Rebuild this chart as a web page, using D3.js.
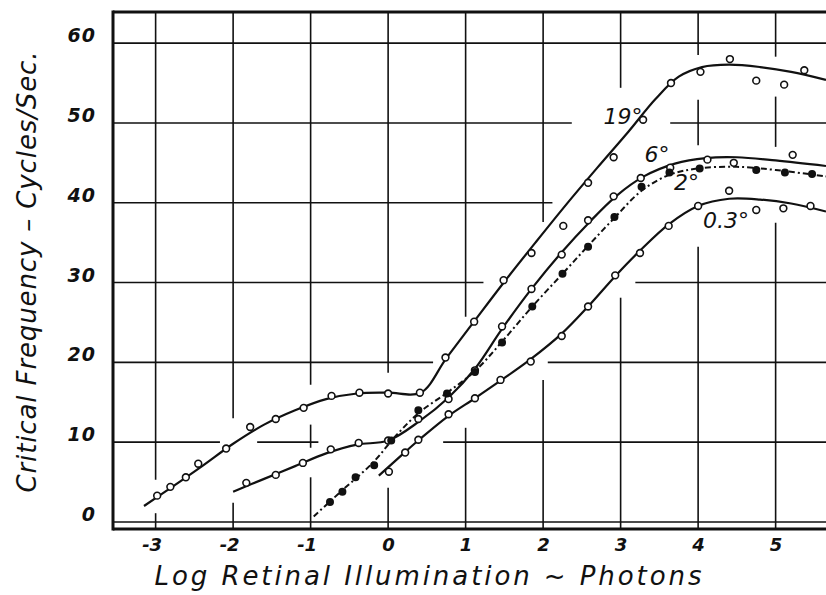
<!DOCTYPE html>
<html><head><meta charset="utf-8">
<script src="https://cdn.jsdelivr.net/npm/d3@7"></script>
<style>
html,body{margin:0;padding:0;background:#fff;}
svg{display:block;}
</style></head>
<body>
<svg id="chart" width="826" height="595"></svg>
<script>
// ---------- data ----------
const xTicks = [-3, -2, -1, 0, 1, 2, 3, 4, 5];
const yTicks = [0, 10, 20, 30, 40, 50, 60];

// observed points [log illumination, critical frequency]
const obs19 = [[-2.98,3.3],[-2.81,4.4],[-2.61,5.6],[-2.45,7.3],[-2.09,9.2],[-1.78,11.9],[-1.45,12.9],[-1.09,14.3],[-0.73,15.8],[-0.37,16.2],[0.0,16.1],[0.41,16.2],[0.74,20.6],[1.11,25.1],[1.49,30.3],[1.85,33.7],[2.26,37.1],[2.58,42.5],[2.91,45.7],[3.29,50.4],[3.65,55.0],[4.03,56.4],[4.41,58.0],[4.75,55.3],[5.11,54.8],[5.37,56.6]];
const obs6 = [[-1.83,4.9],[-1.45,5.9],[-1.10,7.4],[-0.74,9.1],[-0.38,9.9],[0.0,10.2],[0.39,12.9],[0.78,15.4],[1.12,19.0],[1.47,24.5],[1.85,29.2],[2.24,33.5],[2.58,37.8],[2.91,40.8],[3.26,43.1],[3.64,44.4],[4.12,45.4],[4.46,45.0],[5.22,46.0]];
const obs2 = [[-0.75,2.5],[-0.59,3.8],[-0.42,5.6],[-0.18,7.1],[0.04,10.2],[0.39,14.0],[0.76,16.1],[1.12,18.8],[1.47,22.5],[1.86,27.0],[2.25,31.1],[2.58,34.5],[2.92,38.2],[3.27,42.0],[3.63,43.8],[4.02,44.3],[4.75,44.1],[5.12,43.8],[5.47,43.6]];
const obs03 = [[0.01,6.3],[0.22,8.7],[0.39,10.3],[0.78,13.5],[1.12,15.5],[1.45,17.8],[1.84,20.1],[2.24,23.3],[2.58,27.0],[2.93,30.9],[3.25,33.7],[3.62,37.1],[4.0,39.6],[4.40,41.5],[4.75,39.1],[5.10,39.3],[5.45,39.6]];

// hand-fitted smooth curves
const fit19 = [[-3.15,2.0],[-2.8,4.3],[-2.4,7.0],[-2.0,9.8],[-1.6,12.2],[-1.2,14.0],[-0.8,15.4],[-0.4,16.1],[0.0,16.2],[0.42,16.2],[0.75,20.5],[1.1,25.0],[1.5,30.1],[1.9,35.0],[2.3,39.8],[2.7,44.4],[3.1,48.9],[3.45,53.0],[3.75,55.8],[4.05,57.0],[4.4,57.3],[4.8,57.0],[5.2,56.4],[5.65,55.4]];
const fit6 = [[-2.0,3.8],[-1.6,5.4],[-1.2,7.0],[-0.8,8.6],[-0.4,9.7],[0.0,10.2],[0.4,12.6],[0.78,15.6],[1.12,19.2],[1.47,24.2],[1.85,29.2],[2.24,33.8],[2.6,37.6],[2.95,40.9],[3.3,43.3],[3.7,44.9],[4.1,45.6],[4.5,45.7],[5.0,45.3],[5.65,44.6]];
const fit2 = [[-0.96,0.7],[-0.6,3.9],[-0.2,7.4],[0.1,10.8],[0.4,13.7],[0.76,16.2],[1.12,18.9],[1.47,22.6],[1.86,27.0],[2.25,31.1],[2.58,34.6],[2.92,38.1],[3.27,41.5],[3.63,43.5],[4.0,44.3],[4.5,44.5],[5.0,44.1],[5.65,43.3]];
const fit03 = [[-0.12,5.8],[0.2,8.6],[0.4,10.3],[0.78,13.3],[1.12,15.5],[1.45,17.7],[1.84,20.4],[2.24,23.6],[2.58,27.0],[2.93,30.8],[3.25,34.0],[3.62,37.3],[4.0,39.6],[4.4,40.5],[4.8,40.4],[5.2,39.9],[5.65,38.9]];

const seriesNames = ["19°", "6°", "2°", "0.3°"];
const labelAt = [[3.03,50.75],[3.47,46.0],[3.85,42.5],[4.36,37.8]];

// interruptions of the hand-drawn grid (value ranges)
const hGridBreaks = {50:[[2.37,3.64]], 40:[[2.12,5.7]], 30:[[1.23,3.19]], 20:[[0.58,2.06]], 10:[[-2.17,-1.69],[-0.9,0.71]]};
const vGridBreaks = {"-3":[[1.1,5.3]], "-2":[[2.4,13.0]], "-1":[[5.6,9.3],[12.2,17.2]], "0":[[4.3,18.7]], "1":[[11.8,25.7]], "2":[[17.8,37.6]], "3":[[28.1,54.4]], "4":[[34.5,47.2],[52.9,58.5]], "5":[[37.5,47.0],[53.3,58.3]]};

const xTitle = "Log Retinal Illumination ~ Photons";
const yTitle = "Critical Frequency – Cycles/Sec.";

// ---------- drawing ----------
const svg = d3.select("#chart");
const ink = "#111";
const x = d3.scaleLinear().domain([-3.55, 5.65]).range([113, 826]);
const y = d3.scaleLinear().domain([-0.88, 63.9]).range([529, 12]);

function segments(full, breaks) {
  let segs = [[full[0], full[1]]];
  (breaks || []).forEach(([a, b]) => {
    const lo = Math.min(a, b), hi = Math.max(a, b);
    const out = [];
    segs.forEach(([s, e]) => {
      if (hi <= s || lo >= e) { out.push([s, e]); return; }
      if (lo > s) out.push([s, lo]);
      if (hi < e) out.push([hi, e]);
    });
    segs = out;
  });
  return segs;
}

const grid = svg.append("g").attr("stroke", ink).attr("stroke-width", 1.6).attr("fill", "none");
yTicks.forEach(t => {
  segments(x.domain(), hGridBreaks[t]).forEach(([a, b]) => {
    grid.append("line").attr("x1", x(a)).attr("x2", x(b)).attr("y1", y(t)).attr("y2", y(t));
  });
});
xTicks.forEach(t => {
  segments(y.domain(), vGridBreaks[String(t)]).forEach(([a, b]) => {
    grid.append("line").attr("x1", x(t)).attr("x2", x(t)).attr("y1", y(a)).attr("y2", y(b));
  });
});

// frame
const frame = svg.append("g").attr("stroke", ink).attr("stroke-width", 3).attr("fill", "none");
frame.append("line").attr("x1", x.range()[0]).attr("x2", x.range()[0]).attr("y1", y.range()[1] - 1.5).attr("y2", y.range()[0] + 1.5);
frame.append("line").attr("x1", x.range()[0]).attr("x2", x.range()[1]).attr("y1", y.range()[1]).attr("y2", y.range()[1]);
frame.append("line").attr("x1", x.range()[0]).attr("x2", x.range()[1]).attr("y1", y.range()[0]).attr("y2", y.range()[0]);

// axes (labels only)
const tickFont = "'DejaVu Sans', sans-serif";
const yAxis = svg.append("g").attr("transform", `translate(${x.range()[0]},0)`)
  .call(d3.axisLeft(y).tickValues(yTicks).tickSize(0).tickPadding(17));
yAxis.select(".domain").remove();
yAxis.selectAll("text").attr("dy", "-0.08em").attr("fill", ink)
  .style("font-family", tickFont).style("font-size", "19px").style("font-style", "italic").style("font-weight", "bold").style("letter-spacing", "1px");

const xAxis = svg.append("g").attr("transform", `translate(0,${y.range()[0]})`)
  .call(d3.axisBottom(x).tickValues(xTicks).tickSize(0).tickPadding(9).tickFormat(d => d < 0 ? "-" + Math.abs(d) : String(d)));
xAxis.select(".domain").remove();
xAxis.selectAll("text").attr("fill", ink)
  .style("font-family", tickFont).style("font-size", "18px").style("font-style", "italic").style("font-weight", "bold")
  .attr("text-anchor", d => d < 0 ? "end" : "middle").attr("dx", d => d < 0 ? "6" : "0");

// fitted curves
const line = d3.line().x(d => x(d[0])).y(d => y(d[1])).curve(d3.curveCatmullRom.alpha(0.5));
const fits = [fit19, fit6, fit2, fit03];
fits.forEach((f, i) => {
  svg.append("path").datum(f).attr("d", line).attr("fill", "none").attr("stroke", ink)
    .attr("stroke-width", i === 2 ? 2 : 2.2)
    .attr("stroke-dasharray", i === 2 ? "6,3,2,3" : null)
    .attr("stroke-linecap", "butt");
});

// points
const allObs = [obs19, obs6, obs2, obs03];
allObs.forEach((o, i) => {
  svg.append("g").selectAll("circle").data(o).join("circle")
    .attr("cx", d => x(d[0])).attr("cy", d => y(d[1]))
    .attr("r", i === 2 ? 3.2 : 3.4)
    .attr("fill", i === 2 ? ink : "#fff")
    .attr("stroke", ink).attr("stroke-width", 1.6);
});

// curve labels
svg.append("g").selectAll("text").data(seriesNames).join("text")
  .attr("x", (d, i) => x(labelAt[i][0])).attr("y", (d, i) => y(labelAt[i][1]))
  .attr("text-anchor", "middle").attr("dominant-baseline", "central")
  .attr("fill", ink)
  .style("font-family", tickFont).style("font-size", "22px").style("font-style", "italic")
  .text(d => d);

// axis titles
svg.append("text").attr("x", 428).attr("y", 585).attr("text-anchor", "middle")
  .attr("fill", ink).attr("textLength", 547).attr("lengthAdjust", "spacing")
  .style("font-family", tickFont).style("font-size", "26px").style("font-style", "italic")
  .text(xTitle);
svg.append("text").attr("transform", "translate(36,272) rotate(-90)").attr("text-anchor", "middle")
  .attr("fill", ink).attr("textLength", 441).attr("lengthAdjust", "spacing")
  .style("font-family", tickFont).style("font-size", "26px").style("font-style", "italic")
  .text(yTitle);
</script>
</body></html>
